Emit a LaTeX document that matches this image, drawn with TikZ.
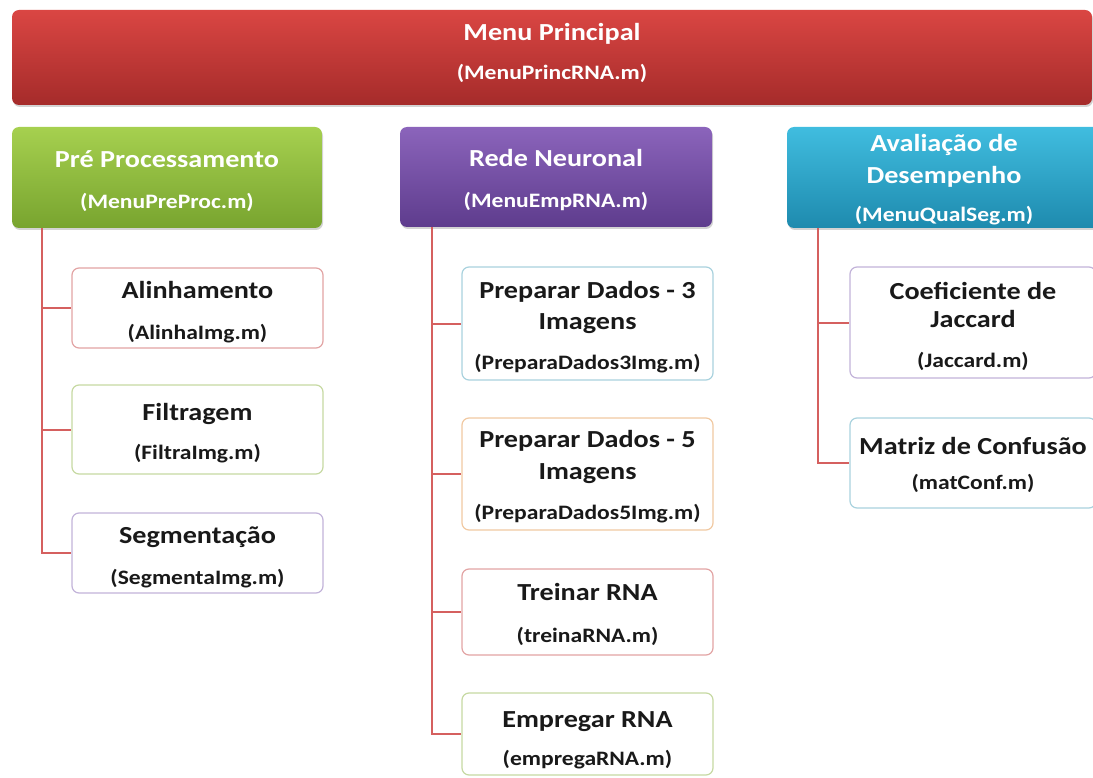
\documentclass[tikz,border=0pt]{standalone}
\usepackage{fontspec}
\setmainfont{Carlito}[FakeStretch=1.15]
\usetikzlibrary{shadows}
\definecolor{redTop}{HTML}{DA4643}
\definecolor{redBot}{HTML}{A52B2A}
\definecolor{grnTop}{HTML}{A6D04F}
\definecolor{grnBot}{HTML}{78A42F}
\definecolor{purTop}{HTML}{8B64BB}
\definecolor{purBot}{HTML}{5E3C8D}
\definecolor{bluTop}{HTML}{40BDDF}
\definecolor{bluBot}{HTML}{1E8AAE}
\definecolor{edgeRed}{HTML}{E2A4A4}
\definecolor{edgeGrn}{HTML}{C6D9A2}
\definecolor{edgePur}{HTML}{C2B3D9}
\definecolor{edgeTea}{HTML}{A9D2DE}
\definecolor{edgeOra}{HTML}{F1C9A2}
\definecolor{connCol}{HTML}{D5605F}
\newcommand{\ttl}{\fontsize{24.5}{32}\selectfont\bfseries}
\newcommand{\sub}{\fontsize{20.5}{32}\selectfont\bfseries}
\tikzset{
  header/.style={rounded corners=7pt, align=center, text=white, font=\ttl,
    drop shadow={shadow xshift=1pt, shadow yshift=-2pt, opacity=0.35},
    inner sep=0pt, text depth=0pt},
  childbox/.style={rounded corners=7pt, align=center, text=black!90,
    font=\ttl, fill=white, line width=1.2pt, inner sep=0pt,
    minimum width=251pt, text depth=0pt},
  conn/.style={draw=connCol, line width=2pt}
}
\begin{document}
\begin{tikzpicture}[x=1pt, y=-1pt]
\useasboundingbox (0,0) rectangle (1093,778);
\clip (0,0) rectangle (1093,778);

% main menu bar
\node[header, top color=redTop, bottom color=redBot, text height=45pt,
      minimum width=1080pt, minimum height=95pt] (main) at (552,57.5)
  {Menu Principal\\[7pt]{\sub (MenuPrincRNA.m)}};

% category headers
\node[header, top color=grnTop, bottom color=grnBot, text height=62pt,
      minimum width=310pt, minimum height=101pt] (pre) at (167,177.5)
  {Pré Processamento\\[9pt]{\sub (MenuPreProc.m)}};
\node[header, top color=purTop, bottom color=purBot, text height=62pt,
      minimum width=312pt, minimum height=100pt] (rna) at (556,177)
  {Rede Neuronal\\[9pt]{\sub (MenuEmpRNA.m)}};
\node[header, top color=bluTop, bottom color=bluBot, text height=88pt,
      minimum width=314pt, minimum height=101pt] (ava) at (944,177.5)
  {Avaliação de\\Desempenho\\[6pt]{\sub (MenuQualSeg.m)}};

% pre-processing modules
\node[childbox, draw=edgeRed, text height=62pt, minimum height=80pt] (alin) at (197.5,308)
  {Alinhamento\\[9pt]{\sub (AlinhaImg.m)}};
\node[childbox, draw=edgeGrn, text height=59pt, minimum height=89pt] (filt) at (197.5,429.5)
  {Filtragem\\[7pt]{\sub (FiltraImg.m)}};
\node[childbox, draw=edgePur, text height=62pt, minimum height=80pt] (segm) at (197.5,553)
  {Segmentação\\[9pt]{\sub (SegmentaImg.m)}};

% neural network modules
\node[childbox, draw=edgeTea, text height=91pt, minimum height=113pt] (prep3) at (587.5,323.5)
  {Preparar Dados - 3\\Imagens\\[7pt]{\sub (PreparaDados3Img.m)}};
\node[childbox, draw=edgeOra, text height=90pt, minimum height=112pt] (prep5) at (587.5,474)
  {Preparar Dados - 5\\Imagens\\[8pt]{\sub (PreparaDados5Img.m)}};
\node[childbox, draw=edgeRed, text height=60pt, minimum height=86pt] (trein) at (587.5,612)
  {Treinar RNA\\[10pt]{\sub (treinaRNA.m)}};
\node[childbox, draw=edgeGrn, text height=62pt, minimum height=82pt] (empr) at (587.5,734)
  {Empregar RNA\\[6pt]{\sub (empregaRNA.m)}};

% evaluation modules
\node[childbox, draw=edgePur, text height=89pt, minimum width=246pt, minimum height=111pt] (jac) at (973,322.5)
  {Coeficiente de\\[-4pt]Jaccard\\[8pt]{\sub (Jaccard.m)}};
\node[childbox, draw=edgeTea, text height=52pt, minimum width=246pt, minimum height=90pt] (conf) at (973,463)
  {Matriz de Confusão\\[3pt]{\sub (matConf.m)}};

% tree connectors
\foreach \c in {alin,filt,segm}
  \draw[conn] (pre.south west) ++(30,0) |- (\c.west);
\foreach \c in {prep3,prep5,trein,empr}
  \draw[conn] (rna.south west) ++(32,0) |- (\c.west);
\foreach \c in {jac,conf}
  \draw[conn] (ava.south west) ++(31,0) |- (\c.west);
\end{tikzpicture}
\end{document}
